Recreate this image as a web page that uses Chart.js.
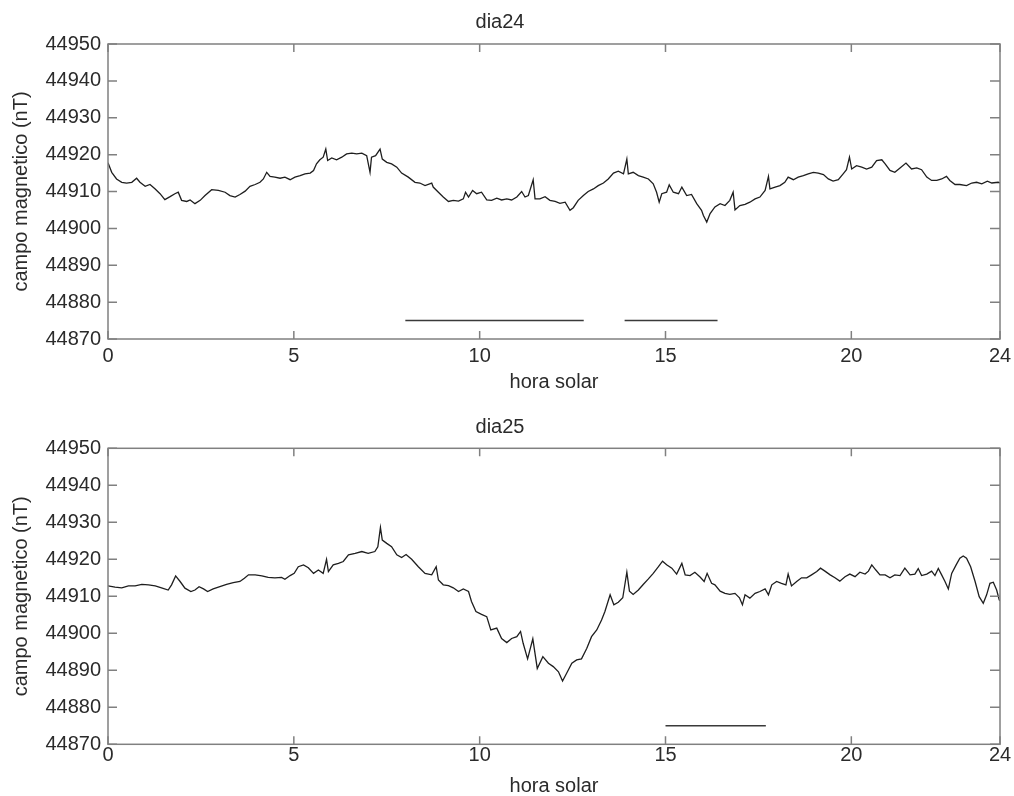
<!DOCTYPE html>
<html>
<head>
<meta charset="utf-8">
<title>campo magnetico - dia24 / dia25</title>
<script src="https://cdn.jsdelivr.net/npm/chart.js@4/dist/chart.umd.min.js"></script>
<style>
  html, body { margin: 0; padding: 0; background: #fff; }
  canvas { position: absolute; left: 0; }
</style>
</head>
<body>
<canvas id="dia24" width="1014" height="398" style="top:0"></canvas>
<canvas id="dia25" width="1014" height="398" style="top:398px"></canvas>
<script>
// values (hora solar, nT)
const hours24 = [0.00,0.10,0.23,0.37,0.50,0.64,0.77,0.86,1.00,1.13,1.27,1.40,1.53,1.67,1.80,1.89,1.98,2.12,2.21,2.34,2.48,2.61,2.79,2.97,3.15,3.28,3.42,3.55,3.69,3.82,3.96,4.09,4.18,4.27,4.36,4.49,4.63,4.76,4.90,5.03,5.17,5.30,5.44,5.53,5.61,5.70,5.79,5.86,5.91,6.02,6.15,6.29,6.42,6.56,6.69,6.83,6.96,7.05,7.09,7.20,7.32,7.38,7.50,7.63,7.77,7.90,8.08,8.26,8.39,8.53,8.71,8.75,8.89,9.02,9.16,9.29,9.43,9.56,9.62,9.70,9.81,9.92,10.05,10.19,10.32,10.46,10.59,10.73,10.86,11.00,11.13,11.22,11.31,11.44,11.49,11.62,11.76,11.89,12.03,12.16,12.30,12.43,12.52,12.65,12.79,12.92,13.06,13.19,13.33,13.46,13.60,13.73,13.87,13.96,14.00,14.13,14.27,14.40,14.54,14.67,14.76,14.83,14.90,15.03,15.10,15.21,15.35,15.44,15.57,15.70,15.84,15.97,16.02,16.11,16.20,16.33,16.47,16.60,16.73,16.82,16.87,17.00,17.14,17.27,17.41,17.54,17.68,17.77,17.81,17.95,18.08,18.21,18.30,18.44,18.57,18.71,18.84,18.98,19.11,19.25,19.38,19.51,19.65,19.78,19.87,19.95,20.01,20.14,20.28,20.41,20.55,20.68,20.82,20.91,21.04,21.17,21.31,21.47,21.62,21.76,21.89,22.03,22.16,22.30,22.43,22.56,22.65,22.79,22.92,23.10,23.24,23.37,23.51,23.66,23.78,23.95,24.00];
const campo24 = [44917.8,44915.2,44913.4,44912.5,44912.3,44912.5,44913.6,44912.5,44911.4,44911.9,44910.7,44909.4,44907.8,44908.6,44909.4,44909.8,44907.6,44907.3,44907.7,44906.7,44907.6,44908.9,44910.5,44910.3,44909.8,44908.9,44908.5,44909.2,44910.1,44911.4,44911.9,44912.5,44913.4,44915.2,44914.1,44913.9,44913.6,44913.9,44913.2,44913.9,44914.3,44914.8,44915.0,44915.7,44917.5,44918.6,44919.3,44921.5,44918.4,44919.1,44918.6,44919.3,44920.2,44920.4,44920.2,44920.4,44919.7,44915.2,44919.3,44919.7,44921.5,44918.8,44917.9,44917.5,44916.6,44915.0,44913.9,44912.5,44912.3,44911.6,44912.3,44911.2,44909.8,44908.5,44907.3,44907.6,44907.4,44908.0,44909.8,44908.5,44910.3,44909.4,44909.8,44907.7,44907.6,44908.2,44907.7,44908.0,44907.7,44908.5,44910.0,44908.5,44908.9,44913.2,44908.0,44908.0,44908.6,44907.6,44907.3,44906.8,44907.1,44904.9,44905.6,44907.6,44908.9,44910.0,44910.7,44911.6,44912.3,44913.4,44915.0,44915.5,44914.8,44918.8,44914.8,44915.2,44914.3,44913.9,44913.4,44912.1,44909.8,44907.1,44909.4,44909.8,44911.8,44909.8,44909.4,44911.2,44908.9,44909.2,44906.7,44904.9,44903.5,44901.7,44904.0,44905.8,44906.7,44906.2,44907.6,44909.8,44905.0,44906.2,44906.5,44907.1,44908.0,44908.5,44910.3,44914.1,44910.7,44911.2,44911.6,44912.5,44913.9,44913.2,44913.9,44914.3,44914.8,44915.2,44915.0,44914.6,44913.4,44912.8,44913.2,44914.8,44915.9,44919.3,44916.1,44917.0,44916.6,44916.1,44916.6,44918.4,44918.6,44917.5,44915.7,44915.2,44916.4,44917.7,44916.1,44916.4,44915.9,44913.9,44913.0,44913.0,44913.4,44914.1,44913.0,44911.9,44911.9,44911.6,44912.3,44912.5,44912.1,44912.8,44912.3,44912.5,44912.3];

const hours25 = [0.00,0.19,0.37,0.55,0.73,0.91,1.09,1.27,1.44,1.62,1.71,1.82,1.94,2.07,2.23,2.34,2.45,2.57,2.68,2.83,3.01,3.19,3.37,3.55,3.67,3.78,3.96,4.14,4.31,4.49,4.67,4.76,4.90,5.01,5.12,5.26,5.39,5.53,5.66,5.79,5.88,5.93,6.06,6.20,6.33,6.47,6.65,6.83,7.00,7.18,7.26,7.33,7.38,7.50,7.63,7.77,7.90,8.02,8.17,8.35,8.53,8.71,8.83,8.89,9.02,9.16,9.29,9.43,9.56,9.70,9.78,9.90,10.05,10.19,10.30,10.46,10.59,10.73,10.86,11.00,11.10,11.17,11.29,11.43,11.55,11.70,11.85,11.98,12.12,12.23,12.34,12.48,12.61,12.74,12.88,13.01,13.15,13.28,13.37,13.51,13.61,13.73,13.85,13.96,14.03,14.13,14.27,14.40,14.54,14.67,14.81,14.92,15.03,15.17,15.30,15.44,15.53,15.66,15.79,15.93,16.04,16.12,16.24,16.33,16.47,16.60,16.73,16.87,16.99,17.07,17.14,17.27,17.41,17.54,17.68,17.77,17.86,17.99,18.12,18.24,18.30,18.39,18.53,18.66,18.80,18.93,19.07,19.17,19.29,19.43,19.56,19.69,19.83,19.96,20.10,20.23,20.37,20.46,20.55,20.66,20.77,20.91,21.04,21.17,21.31,21.44,21.58,21.71,21.80,21.89,22.03,22.16,22.25,22.34,22.43,22.52,22.61,22.70,22.82,22.92,23.01,23.10,23.21,23.33,23.44,23.55,23.64,23.73,23.82,23.91,23.98,24.00];
const campo25 = [44912.8,44912.5,44912.3,44912.8,44912.8,44913.2,44913.1,44912.8,44912.3,44911.7,44913.1,44915.5,44914.0,44912.2,44911.3,44911.7,44912.6,44912.0,44911.3,44912.0,44912.6,44913.2,44913.7,44914.0,44914.9,44915.8,44915.8,44915.5,44915.1,44915.0,44915.1,44914.6,44915.6,44916.2,44918.0,44918.5,44917.7,44916.2,44917.1,44916.2,44920.0,44916.7,44918.5,44918.9,44919.4,44921.2,44921.6,44922.1,44921.6,44922.1,44923.4,44928.6,44925.2,44924.3,44923.4,44921.2,44920.5,44921.3,44920.0,44918.0,44916.2,44915.8,44918.0,44914.4,44913.1,44912.9,44912.3,44911.3,44912.0,44911.3,44908.6,44905.9,44905.1,44904.5,44900.9,44901.4,44898.6,44897.5,44898.6,44899.1,44900.5,44897.3,44893.1,44898.5,44890.5,44893.7,44891.9,44891.0,44889.6,44887.1,44889.2,44891.9,44892.8,44893.1,44895.9,44899.1,44900.9,44903.6,44905.9,44910.4,44907.7,44908.4,44909.6,44916.5,44911.4,44910.5,44911.7,44913.2,44914.7,44916.2,44918.0,44919.5,44918.5,44917.6,44916.0,44918.9,44915.8,44915.6,44916.5,44915.2,44914.0,44916.2,44913.5,44913.1,44911.4,44910.8,44910.5,44910.8,44909.6,44907.7,44910.4,44909.5,44910.8,44911.3,44912.0,44910.4,44913.1,44914.0,44913.5,44913.1,44916.0,44912.8,44914.0,44915.0,44915.0,44915.8,44916.7,44917.6,44916.8,44915.8,44915.0,44914.1,44915.3,44916.0,44915.3,44916.5,44916.0,44916.8,44918.5,44917.1,44915.8,44915.8,44915.0,44915.8,44915.6,44917.6,44915.8,44916.0,44917.5,44915.6,44916.0,44916.8,44915.6,44917.5,44915.8,44914.0,44912.0,44916.2,44918.5,44920.3,44920.9,44920.3,44918.0,44914.0,44909.9,44908.1,44910.4,44913.5,44913.8,44911.7,44909.0,44908.8];

// horizontal marks near the bottom of each panel
const barLevel = 44875;
const bars24 = [[8.0, 12.8], [13.9, 16.4]];
const bars25 = [[15.0, 17.7]];

const xTicks = [0, 5, 10, 15, 20, 24];
const yMin = 44870, yMax = 44950, yStep = 10;

const FONT = 'Liberation Sans, Arial, sans-serif';
const TXT = '#2b2b2b';

// matlab style box with inward ticks on all sides
const boxPlugin = {
  id: 'box',
  afterDraw(chart) {
    const { ctx, chartArea: a, scales: { x, y } } = chart;
    ctx.save();
    ctx.strokeStyle = '#808080';
    ctx.lineWidth = 1.5;
    ctx.strokeRect(a.left, a.top, a.right - a.left, a.bottom - a.top);
    ctx.beginPath();
    x.ticks.forEach(t => {
      const px = x.getPixelForValue(t.value);
      ctx.moveTo(px, a.bottom); ctx.lineTo(px, a.bottom - 8);
      ctx.moveTo(px, a.top); ctx.lineTo(px, a.top + 8);
    });
    y.ticks.forEach(t => {
      const py = y.getPixelForValue(t.value);
      ctx.moveTo(a.left, py); ctx.lineTo(a.left + 9, py);
      ctx.moveTo(a.right, py); ctx.lineTo(a.right - 10, py);
    });
    ctx.stroke();
    ctx.restore();
  }
};

function makeChart(id, title, hours, campo, bars, g) {
  const datasets = [{
    data: hours.map((h, i) => ({ x: h, y: campo[i] })),
    borderColor: '#1e1e1e',
    borderWidth: 1.3,
    pointRadius: 0,
    tension: 0
  }];
  bars.forEach(b => {
    datasets.push({
      data: [{ x: b[0], y: barLevel }, { x: b[1], y: barLevel }],
      borderColor: '#3a3a3a',
      borderWidth: 1.6,
      pointRadius: 0
    });
  });

  new Chart(document.getElementById(id), {
    type: 'line',
    data: { datasets },
    options: {
      responsive: false,
      animation: false,
      layout: { padding: { left: 0, right: 14, top: 0, bottom: 0 } },
      plugins: {
        legend: { display: false },
        tooltip: { enabled: false },
        title: {
          display: true,
          text: title,
          color: TXT,
          font: { family: FONT, size: 20, weight: 'normal', lineHeight: 1.2 },
          padding: { top: g.titleTop, bottom: g.titleBottom }
        }
      },
      scales: {
        x: {
          type: 'linear',
          min: 0,
          max: 24,
          grid: { display: false, drawTicks: false },
          border: { display: false },
          afterBuildTicks: s => { s.ticks = xTicks.map(v => ({ value: v })); },
          afterFit: s => { s.height = g.xHeight; },
          ticks: {
            color: TXT,
            padding: 0,
            maxRotation: 0,
            // lineHeight places the label below the axis without widening the right margin
            font: { family: FONT, size: 20, lineHeight: g.tickLH },
            callback: v => String(v)
          },
          title: {
            display: true,
            text: 'hora solar',
            color: TXT,
            font: { family: FONT, size: 20, lineHeight: 1 },
            padding: { top: 0, bottom: g.xTitlePad }
          }
        },
        y: {
          min: yMin,
          max: yMax,
          grid: { display: false, drawTicks: false },
          border: { display: false },
          afterFit: s => { s.width = 108; },
          ticks: {
            stepSize: yStep,
            color: TXT,
            padding: 7,
            font: { family: FONT, size: 20, lineHeight: 1 },
            callback: v => String(v)
          },
          title: {
            display: true,
            text: 'campo magnetico (nT)',
            color: TXT,
            font: { family: FONT, size: 20, lineHeight: 1.2 },
            padding: { top: 9, bottom: 0 }
          }
        }
      }
    },
    plugins: [boxPlugin]
  });
}

makeChart('dia24', 'dia24', hours24, campo24, bars24,
  { titleTop: 10, titleBottom: 10, xHeight: 59, tickLH: 1.75, xTitlePad: 6 });
makeChart('dia25', 'dia25', hours25, campo25, bars25,
  { titleTop: 17.5, titleBottom: 8.8, xHeight: 51.7, tickLH: 1.07, xTitlePad: 0 });
</script>
</body>
</html>
